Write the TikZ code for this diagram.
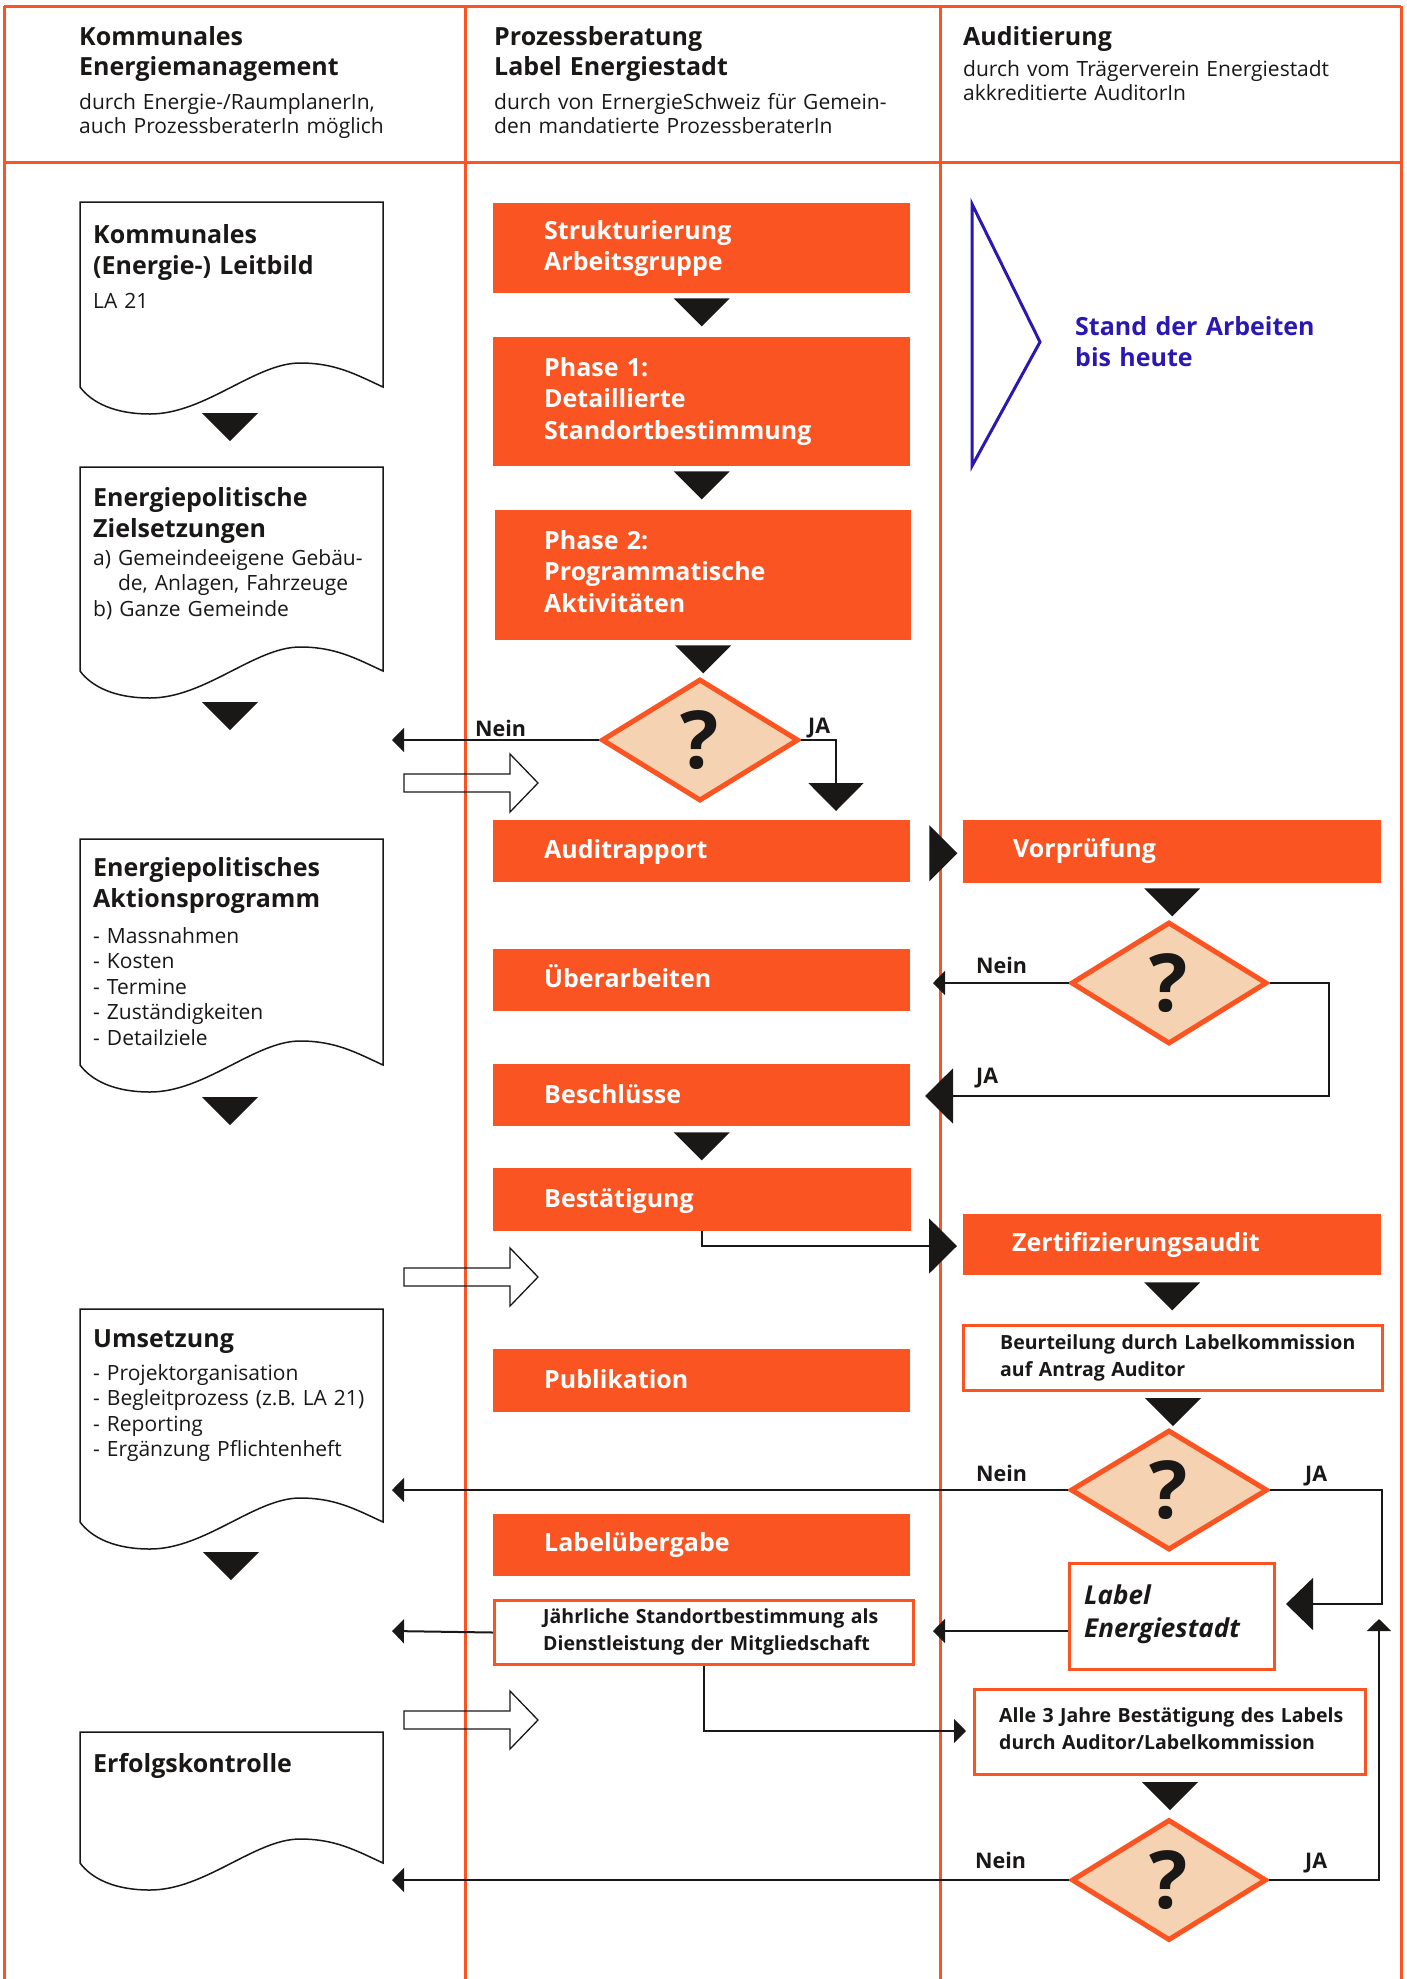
\documentclass[tikz,border=0pt]{standalone}
\usepackage{fontspec}
\setmainfont{Open Sans}
\usetikzlibrary{arrows.meta,calc,shapes.geometric}
\definecolor{orng}{RGB}{249,84,34}
\definecolor{peach}{RGB}{245,211,178}
\definecolor{blk}{RGB}{26,23,23}
\definecolor{blu}{RGB}{42,24,178}
\newcommand{\myfs}[2]{\fontsize{#1}{#2}\selectfont}
\newcommand{\downtri}[1]{\fill[blk] #1 ++(-28,0) -- ++(56,0) -- ++(-28,28) -- cycle;}
\newcommand{\wavedoc}[3]{\draw[docline] (80,#1) coordinate (#3) -- (383,#1) -- (383,#2) .. controls (355,{#2-13}) and (335,{#2-24}) .. (300,{#2-24}) .. controls (255,{#2-24}) and (205,{#2+27}) .. (150,{#2+27}) .. controls (115,{#2+27}) and (92,{#2+16}) .. (80,#2) -- cycle;}
\newcommand{\hollowarr}[1]{\draw[blk, line width=1.3pt] (404,{#1-9}) -- (510,{#1-9}) -- (510,{#1-29}) -- (538,#1) -- (510,{#1+29}) -- (510,{#1+9}) -- (404,{#1+9}) -- cycle;}
\begin{document}
\begin{tikzpicture}[x=1pt,y=-1pt,
 lane/.style={draw=orng,line width=3pt},
 obox/.style={rectangle, fill=orng, draw=none, anchor=north west, inner sep=0pt},
 wbox/.style={rectangle, draw=orng, line width=3pt, fill=white, anchor=north west, inner sep=0pt},
 otext/.style={anchor=base west, inner sep=0pt, text=white, font=\bfseries\myfs{25}{31.5}, align=left, text width=360pt},
 wtext/.style={anchor=base west, inner sep=0pt, text=blk, font=\bfseries\myfs{19.5}{27}, align=left, text width=420pt},
 htitle/.style={anchor=base west, inner sep=0pt, text=blk, font=\bfseries\myfs{25}{30}, align=left, text width=380pt},
 hsub/.style={anchor=base west, inner sep=0pt, text=blk, font=\myfs{21}{24}, align=left, text width=430pt},
 dtitle/.style={anchor=base west, inner sep=0pt, text=blk, font=\bfseries\myfs{25}{31}, align=left, text width=300pt},
 dsub/.style={anchor=base west, inner sep=0pt, text=blk, font=\myfs{21}{25.5}, align=left, text width=300pt},
 dec/.style={diamond, draw=orng, line width=5pt, fill=peach, inner sep=0pt, font=\bfseries\myfs{80}{80}, text=blk},
 cline/.style={draw=blk, line width=2pt},
 sarr/.style={-{Triangle[length=12pt,width=24pt]}},
 barr/.style={-{Triangle[length=28pt,width=55pt]}},
 lbl/.style={anchor=base west, inner sep=0pt, font=\bfseries\myfs{21.5}{24}, text=blk},
 docline/.style={draw=blk, line width=1.5pt, fill=white}
]
\useasboundingbox (0,0) rectangle (1407,1979);
% lanes
\draw[lane] (4,6) -- (1401,6);
\draw[lane] (4,162) -- (1401,162);
\draw[lane] (4,6) -- (4,1979);
\draw[lane] (465,6) -- (465,1979);
\draw[lane] (940,6) -- (940,1979);
\draw[lane] (1401,6) -- (1401,1979);
% header
\node[htitle] (h1t) at (79,45) {Kommunales\\Energiemanagement};
\node[hsub] (h1s) at (79,109) {durch Energie-/RaumplanerIn,\\auch ProzessberaterIn möglich};
\node[htitle] (h2t) at (494,45) {Prozessberatung\\Label Energiestadt};
\node[hsub] (h2s) at (494,109) {durch von ErnergieSchweiz für Gemein-\\den mandatierte ProzessberaterIn};
\node[htitle] (h3t) at (963,45) {Auditierung};
\node[hsub] (h3s) at (963,76) {durch vom Trägerverein Energiestadt\\akkreditierte AuditorIn};
% left documents
\wavedoc{202}{387}{doc1}
\node[dtitle] (doc1t) at (93,243) {Kommunales\\(Energie-) Leitbild};
\node[dsub] (doc1s) at (93,308) {LA 21};
\downtri{(230,413)}
\wavedoc{467}{671}{doc2}
\node[dtitle] (doc2t) at (93,506) {Energiepolitische\\Zielsetzungen};
\node[dsub] (doc2s) at (93,565) {a) Gemeindeeigene Gebäu-\\\phantom{a) }de, Anlagen, Fahrzeuge\\b) Ganze Gemeinde};
\downtri{(230,702)}
\wavedoc{839}{1065}{doc3}
\node[dtitle] (doc3t) at (93,876) {Energiepolitisches\\Aktionsprogramm};
\node[dsub] (doc3s) at (93,943) {- Massnahmen\\- Kosten\\- Termine\\- Zuständigkeiten\\- Detailziele};
\downtri{(230,1097)}
\wavedoc{1309}{1522}{doc4}
\node[dtitle] (doc4t) at (93,1347) {Umsetzung};
\node[dsub] (doc4s) at (93,1380) {- Projektorganisation\\- Begleitprozess (z.B. LA 21)\\- Reporting\\- Ergänzung Pflichtenheft};
\downtri{(231,1552)}
\wavedoc{1732}{1863}{doc5}
\node[dtitle] (doc5t) at (93,1772) {Erfolgskontrolle};
% hollow arrows
\hollowarr{783}
\hollowarr{1277}
\hollowarr{1720}
% middle column
\node[obox, minimum width=417pt, minimum height=90pt] (strk) at (493,203) {};
\node[otext] (strkT) at (544,239) {Strukturierung\\Arbeitsgruppe};
\downtri{($(strk.south)+(0,5)$)}
\node[obox, minimum width=417pt, minimum height=129pt] (ph1) at (493,337) {};
\node[otext] (ph1T) at (544,376) {Phase 1:\\Detaillierte\\Standortbestimmung};
\downtri{($(ph1.south)+(0,5)$)}
\node[obox, minimum width=416pt, minimum height=130pt] (ph2) at (495,510) {};
\node[otext] (ph2T) at (544,549) {Phase 2:\\Programmatische\\Aktivitäten};
\downtri{($(ph2.south)+(0,5)$)}
\node[dec, minimum width=197pt, minimum height=122pt] (d1) at (700,740) {?};
\node[obox, minimum width=417pt, minimum height=62pt] (audi) at (493,820) {};
\node[otext] (audiT) at (544,858) {Auditrapport};
\node[obox, minimum width=417pt, minimum height=62pt] (ueb) at (493,949) {};
\node[otext] (uebT) at (544,987) {Überarbeiten};
\node[obox, minimum width=417pt, minimum height=62pt] (besch) at (493,1064) {};
\node[otext] (beschT) at (544,1103) {Beschlüsse};
\downtri{($(besch.south)+(0,6)$)}
\node[obox, minimum width=418pt, minimum height=63pt] (best) at (493,1168) {};
\node[otext] (bestT) at (544,1207) {Bestätigung};
\node[obox, minimum width=417pt, minimum height=63pt] (publ) at (493,1349) {};
\node[otext] (publT) at (544,1388) {Publikation};
\node[obox, minimum width=417pt, minimum height=62pt] (labu) at (493,1514) {};
\node[otext] (labuT) at (544,1551) {Labelübergabe};
\node[wbox, minimum width=419pt, minimum height=64pt] (jahr) at (493,1599) {};
\node[wtext] (jahrT) at (543,1623) {Jährliche Standortbestimmung als\\Dienstleistung der Mitgliedschaft};
% right column
\draw[blu, line width=3pt] (972,204) -- (1040,342) -- (972,466) -- cycle;
\node[anchor=base west, inner sep=0pt, text=blu, font=\bfseries\myfs{25}{31}, align=left, text width=300pt] (stand) at (1075,335) {Stand der Arbeiten\\bis heute};
\node[obox, minimum width=418pt, minimum height=63pt] (vorp) at (963,820) {};
\node[otext] (vorpT) at (1013,857) {Vorprüfung};
\downtri{($(vorp.south)+(0,5)$)}
\node[dec, minimum width=196pt, minimum height=122pt] (d2) at (1169,983) {?};
\node[obox, minimum width=418pt, minimum height=61pt] (zert) at (963,1214) {};
\node[otext] (zertT) at (1012,1251) {Zertifizierungsaudit};
\downtri{($(zert.south)+(0,7)$)}
\node[wbox, minimum width=419pt, minimum height=65pt] (beur) at (962,1324) {};
\node[wtext] (beurT) at (1000,1349) {Beurteilung durch Labelkommission\\auf Antrag Auditor};
\downtri{($(beur.south)+(0,6)$)}
\node[dec, minimum width=197pt, minimum height=120pt] (d3) at (1169,1490) {?};
\node[wbox, minimum width=205pt, minimum height=106pt] (lab) at (1068,1562) {};
\node[anchor=base west, inner sep=0pt, text=blk, font=\bfseries\itshape\myfs{26}{33}, align=left, text width=190pt] (labT) at (1084,1604) {Label\\Energiestadt};
\node[wbox, minimum width=391pt, minimum height=85pt] (alle) at (973,1688) {};
\node[wtext] (alleT) at (999,1722) {Alle 3 Jahre Bestätigung des Labels\\durch Auditor/Labelkommission};
\downtri{($(alle.south)+(0,6)$)}
\node[dec, minimum width=195pt, minimum height=121pt] (d4) at (1169,1880) {?};
% free ends
\coordinate (e1) at (392,740);
\coordinate (e2) at (933,983);
\coordinate (e3) at (392,1490);
\coordinate (e4) at (392,1880);
\coordinate (e5) at (392,1631);
\coordinate (e6) at (933,1631);
\coordinate (e7) at (966,1731);
\coordinate (j1) at (836,811);
\coordinate (j2) at (925,1096);
\coordinate (j3) at (1286,1604);
\coordinate (j4) at (1379,1619);
\coordinate (j5) at (957,1246);
% connectors
\draw[cline,sarr] (d1.west) -- (e1);
\draw[cline,barr] (d1.east) -| (j1);
\fill[blk] ($(audi.east)+(19,-26)$) -- ++(0,56) -- ++(28,-28) -- cycle;
\draw[cline,sarr] (d2.west) -- (e2);
\draw[cline,barr] (d2.east) -- ++(59,0) |- (j2);
\draw[cline,barr] (best.south) |- (j5);
\draw[cline,sarr] (d3.west) -- (e3);
\draw[cline,-{Triangle[length=27pt,width=52pt]}] (d3.east) -- ++(112,0) |- (j3);
\draw[cline,sarr] (lab.west |- e6) -- (e6);
\draw[cline,sarr] (jahr.west) -- (e5);
\draw[cline,sarr] (jahr.south) |- (e7);
\draw[cline,sarr] (d4.west) -- (e4);
\draw[cline,sarr] (d4.east) -| (j4);
% labels
\node[lbl] (n1) at (475,736) {Nein};
\node[lbl] (y1) at (808,733) {JA};
\node[lbl] (n2) at (976,973) {Nein};
\node[lbl] (y2) at (976,1083) {JA};
\node[lbl] (n3) at (976,1481) {Nein};
\node[lbl] (y3) at (1305,1481) {JA};
\node[lbl] (n4) at (975,1868) {Nein};
\node[lbl] (y4) at (1305,1868) {JA};
\end{tikzpicture}
\end{document}
